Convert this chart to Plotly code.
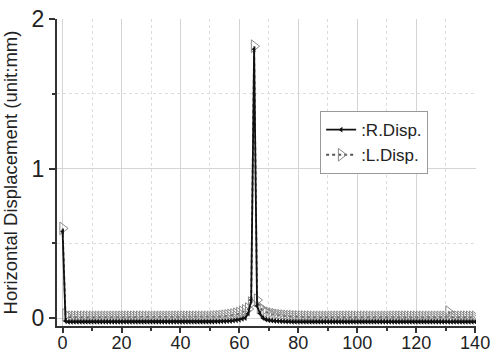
import plotly.graph_objects as go

x_vals = list(range(0, 141))

r_disp = [
    0.58, -0.02, -0.025, -0.025, -0.025, -0.025, -0.025, -0.025, -0.025, -0.025,
    -0.025, -0.025, -0.025, -0.025, -0.025, -0.025, -0.025, -0.025, -0.025, -0.025,
    -0.025, -0.025, -0.025, -0.025, -0.025, -0.025, -0.025, -0.025, -0.025, -0.025,
    -0.025, -0.025, -0.025, -0.025, -0.025, -0.025, -0.025, -0.025, -0.025, -0.025,
    -0.025, -0.025, -0.025, -0.025, -0.025, -0.025, -0.025, -0.025, -0.025, -0.025,
    -0.025, -0.025, -0.024, -0.024, -0.023, -0.022, -0.021, -0.02, -0.018, -0.015,
    -0.012, -0.006, 0.0, 0.03, 0.12, 1.80, 0.08, 0.03, 0.0, -0.01,
    -0.015, -0.018, -0.02, -0.021, -0.022, -0.023, -0.024, -0.024, -0.025, -0.025,
    -0.025, -0.025, -0.025, -0.025, -0.025, -0.025, -0.025, -0.025, -0.025, -0.025,
    -0.025, -0.025, -0.025, -0.025, -0.025, -0.025, -0.025, -0.025, -0.025, -0.025,
    -0.025, -0.025, -0.025, -0.025, -0.025, -0.025, -0.025, -0.025, -0.025, -0.025,
    -0.025, -0.025, -0.025, -0.025, -0.025, -0.025, -0.025, -0.025, -0.025, -0.025,
    -0.025, -0.025, -0.025, -0.025, -0.025, -0.025, -0.025, -0.025, -0.025, -0.025,
    -0.025, -0.025, -0.025, -0.025, -0.025, -0.025, -0.025, -0.025, -0.025, -0.025,
    -0.025,
]

l_disp = [
    0.60, 0.02, 0.006, 0.005, 0.005, 0.005, 0.005, 0.005, 0.005, 0.005,
    0.005, 0.005, 0.005, 0.005, 0.005, 0.005, 0.005, 0.005, 0.005, 0.005,
    0.005, 0.005, 0.005, 0.005, 0.005, 0.005, 0.005, 0.005, 0.005, 0.005,
    0.005, 0.005, 0.005, 0.005, 0.005, 0.005, 0.005, 0.005, 0.005, 0.005,
    0.005, 0.005, 0.005, 0.005, 0.005, 0.005, 0.005, 0.005, 0.005, 0.005,
    0.005, 0.006, 0.007, 0.008, 0.01, 0.012, 0.014, 0.017, 0.02, 0.025,
    0.03, 0.038, 0.048, 0.06, 0.10, 1.82, 0.12, 0.07, 0.05, 0.04,
    0.032, 0.026, 0.022, 0.018, 0.015, 0.013, 0.011, 0.01, 0.009, 0.008,
    0.007, 0.007, 0.006, 0.006, 0.006, 0.005, 0.005, 0.005, 0.005, 0.005,
    0.005, 0.005, 0.005, 0.005, 0.005, 0.005, 0.005, 0.005, 0.005, 0.005,
    0.005, 0.005, 0.005, 0.005, 0.005, 0.005, 0.005, 0.005, 0.005, 0.005,
    0.005, 0.005, 0.005, 0.005, 0.005, 0.005, 0.005, 0.005, 0.005, 0.005,
    0.005, 0.005, 0.005, 0.005, 0.005, 0.005, 0.005, 0.005, 0.005, 0.005,
    0.005, 0.04, 0.005, 0.005, 0.005, 0.005, 0.005, 0.005, 0.005, 0.005,
    0.005,
]

x_ticks = [0, 20, 40, 60, 80, 100, 120, 140]
y_ticks = [0, 1, 2]
y_title = "Horizontal Displacement (unit:mm)"
names = [":R.Disp.", ":L.Disp."]

fig = go.Figure()
fig.add_trace(go.Scatter(
    x=x_vals, y=l_disp, name=names[1], mode="lines+markers",
    line=dict(color="#555555", width=1.8, dash="dot"),
    marker=dict(symbol="triangle-right-open", size=11, color="#8a8a8a",
                line=dict(width=1, color="#8a8a8a")),
))
fig.add_trace(go.Scatter(
    x=x_vals, y=r_disp, name=names[0], mode="lines+markers",
    line=dict(color="#111111", width=1.8),
    marker=dict(symbol="triangle-left", size=5, color="#111111"),
))

fig.update_layout(
    width=504, height=352,
    margin=dict(l=57, r=28, t=19, b=26),
    plot_bgcolor="white", paper_bgcolor="white",
    font=dict(family="Liberation Sans, Arial, sans-serif", color="#222222"),
    legend=dict(x=0.628, y=0.70, xanchor="left", yanchor="top",
                bgcolor="white", bordercolor="#999999", borderwidth=1,
                font=dict(size=17), traceorder="reversed",
                tracegroupgap=0, itemwidth=30),
    showlegend=True,
)
fig.update_xaxes(
    range=[-1.9, 140.3], tickvals=x_ticks, ticktext=[str(v) for v in x_ticks],
    showline=True, linecolor="#333333", linewidth=2, automargin=False,
    ticks="outside", ticklen=5, tickwidth=1.5, tickcolor="#333333",
    showgrid=True, gridcolor="#d4d4d4", gridwidth=1,
    zeroline=False, tickfont=dict(size=18), ticklabelstandoff=-6,
    minor=dict(tickvals=[10, 30, 50, 70, 90, 110, 130], ticks="outside", ticklen=3,
               tickcolor="#333333", showgrid=True, gridcolor="#dddddd", griddash="dot"),
)
fig.update_yaxes(
    range=[-0.0535, 2.002], tickvals=y_ticks, ticktext=[str(v) for v in y_ticks],
    showline=True, linecolor="#333333", linewidth=2, automargin=False,
    ticks="outside", ticklen=6, tickwidth=1.5, tickcolor="#333333",
    showgrid=True, gridcolor="#d4d4d4", gridwidth=1,
    zeroline=False, tickfont=dict(size=23),
    title=dict(text=y_title, font=dict(size=18.5)),
    minor=dict(tickvals=[0.5, 1.5], ticks="outside", ticklen=3,
               tickcolor="#333333", showgrid=True, gridcolor="#dddddd", griddash="dot"),
)

fig.write_html("out.html")
